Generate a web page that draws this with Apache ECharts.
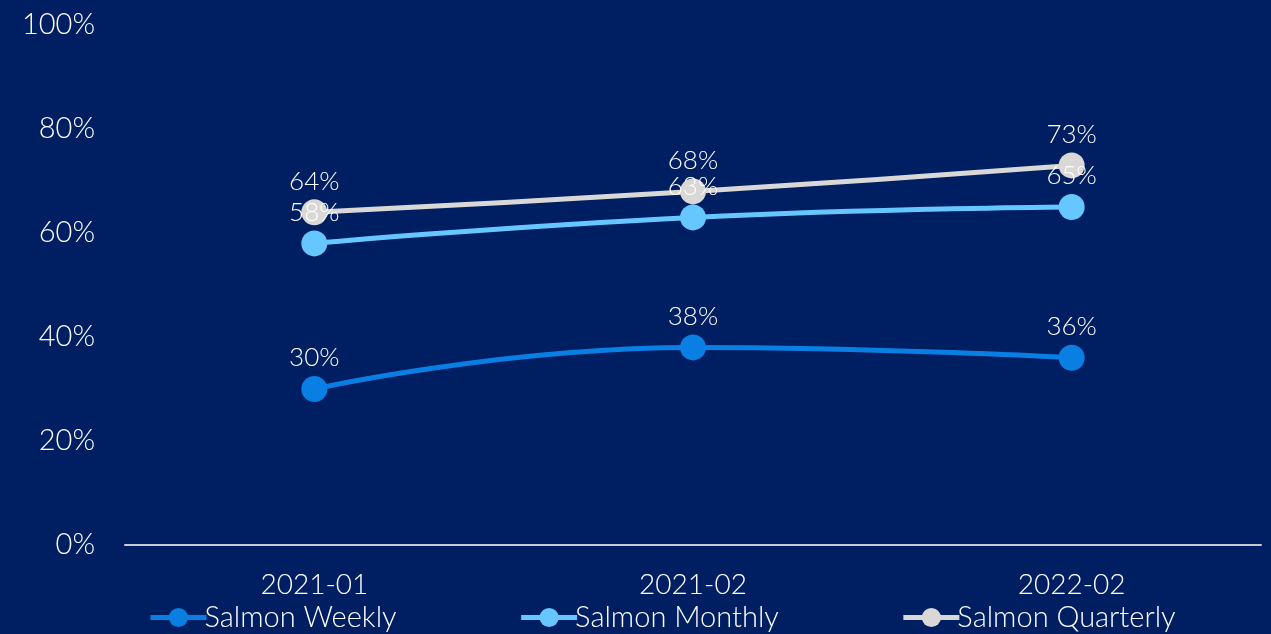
<!DOCTYPE html>
<html><head><meta charset="utf-8">
<script src="https://cdn.jsdelivr.net/npm/echarts@6/dist/echarts.min.js"></script>
<style>html,body{margin:0;padding:0;background:#001E62;}#c{width:1271px;height:634px;}</style>
</head><body><div id="c"></div>
<script>
const categories = ['2021-01', '2021-02', '2022-02'];
const weekly = [30, 38, 36];
const monthly = [58, 63, 65];
const quarterly = [64, 68, 73];
const yTicks = [0, 20, 40, 60, 80, 100];

const font = 'Lato';
const fw = 300;
function mk(name, data, color) {
  return {
    name, type: 'line', data, smooth: true,
    symbol: 'circle', symbolSize: 26,
    lineStyle: { width: 5, color },
    itemStyle: { color },
    label: { show: true, position: 'top', distance: 5, color: '#fff', fontFamily: font, fontWeight: fw, fontSize: 26, formatter: p => p.value + '%' }
  };
}
const chart = echarts.init(document.getElementById('c'));
chart.setOption({
  backgroundColor: '#001E62',
  animation: false,
  grid: { left: 125, right: 10, top: 25, bottom: 89, containLabel: false },
  legend: {
    bottom: -3, left: 143, itemGap: 122, itemWidth: 56, itemHeight: 24,
    itemStyle: { borderWidth: 0 },
    lineStyle: { width: 5 },
    textStyle: { color: '#fff', fontFamily: font, fontWeight: fw, fontSize: 29, padding: [0, 0, 0, -7] },
    data: ['Salmon Weekly', 'Salmon Monthly', 'Salmon Quarterly']
  },
  xAxis: {
    type: 'category', data: categories, boundaryGap: true,
    axisLine: { lineStyle: { color: '#C8C8CF', width: 2 } },
    axisTick: { show: false },
    axisLabel: { color: '#fff', fontFamily: font, fontWeight: fw, fontSize: 28, margin: 26 }
  },
  yAxis: {
    type: 'value', min: 0, max: 100, interval: 20,
    splitLine: { show: false },
    axisLine: { show: false }, axisTick: { show: false },
    axisLabel: { color: '#fff', fontFamily: font, fontWeight: fw, fontSize: 29, margin: 30, formatter: v => yTicks.includes(v) ? v + '%' : '' }
  },
  series: [
    mk('Salmon Weekly', weekly, '#0A7FE3'),
    mk('Salmon Monthly', monthly, '#66C7FF'),
    mk('Salmon Quarterly', quarterly, '#D9D8D6')
  ]
});
</script></body></html>
